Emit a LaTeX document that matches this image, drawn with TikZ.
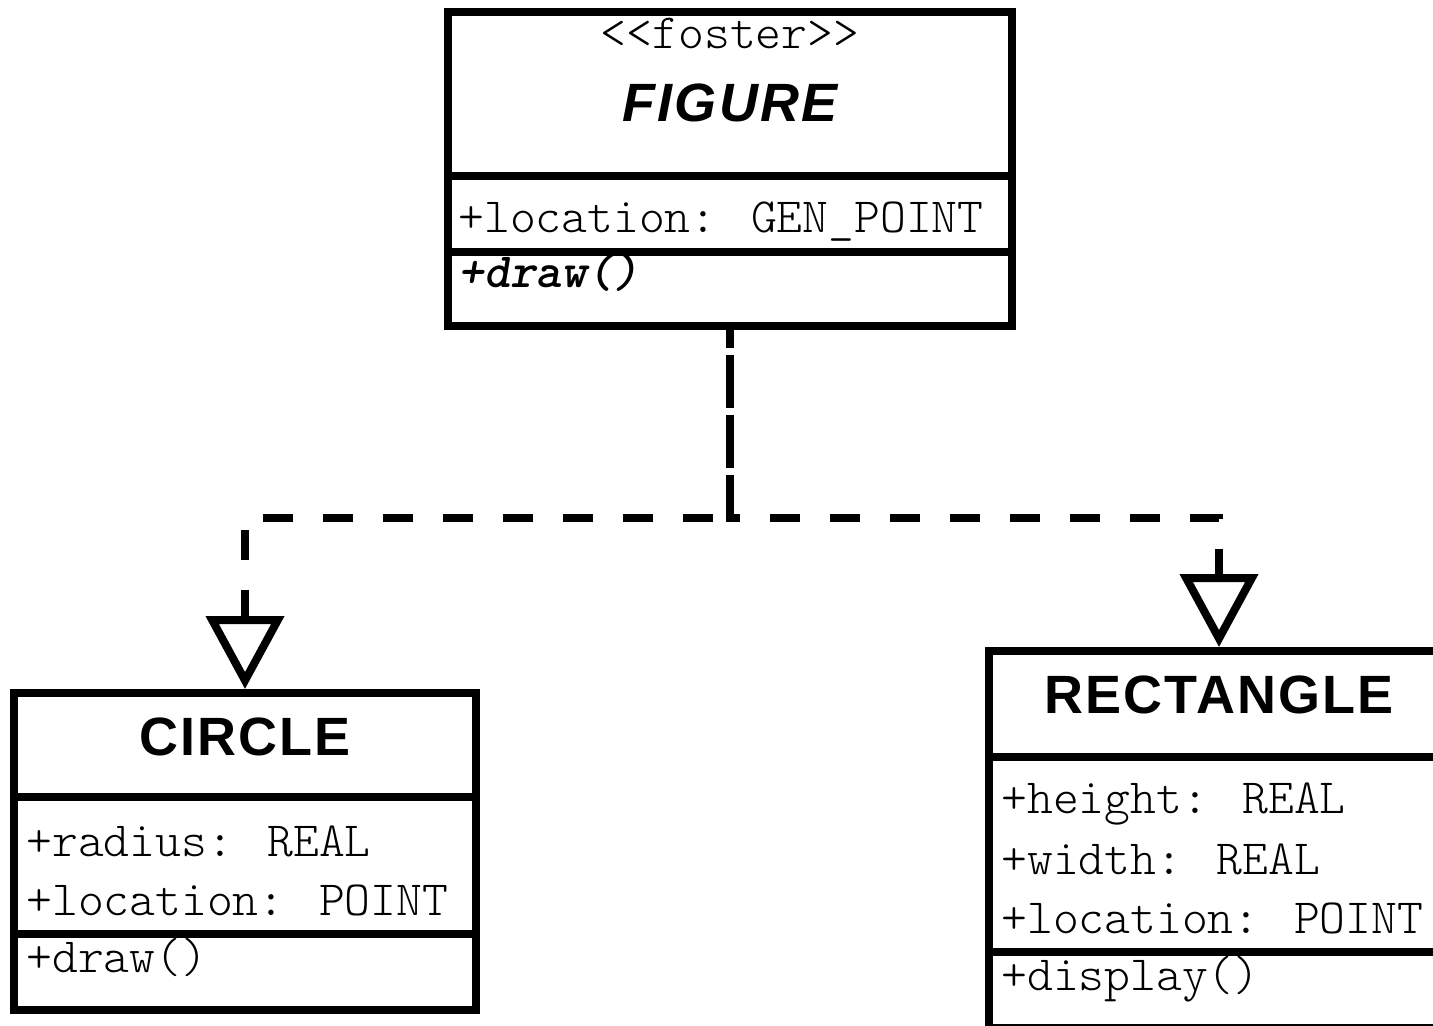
\documentclass[tikz,border=0pt]{standalone}
\usepackage{fontspec}
\usepackage{tikz}
\usetikzlibrary{arrows.meta}
\newfontfamily\umlsans[LetterSpace=4]{Liberation Sans}
\newfontfamily\umlmono{Latin Modern Mono Light}

\begin{document}
\begin{tikzpicture}[x=0.02cm,y=-0.02cm,
   cls/.style={draw,line width=0.16cm,inner sep=0pt},
   part/.style={line width=0.16cm},
   cname/.style={anchor=base,inner sep=0pt,
                 font=\umlsans\bfseries\fontsize{30.7pt}{36pt}\selectfont},
   member/.style={anchor=base west,inner sep=0pt,
                  font=\umlmono\fontsize{28pt}{32pt}\selectfont},
   gen/.style={line width=0.16cm,dash pattern=on 0.6cm off 0.6cm,
               -{Triangle[open,length=1.46cm,width=1.54cm]}}]
  \useasboundingbox (0,0) rectangle (1433,1026);
  \clip (0,0) rectangle (1433,1026);

  % abstract class
  \node[cls,minimum width=11.28cm,minimum height=6.28cm] (fig) at (730,169) {};
  \draw[part] (444,176) -- (1016,176);
  \draw[part] (444,252) -- (1016,252);
  \node[member,anchor=base] (figst) at (730,49) {{<}{<}foster{>}{>}};
  \node[cname,font=\umlsans\bfseries\itshape\fontsize{30.7pt}{36pt}\selectfont] (figname) at (730,122) {FIGURE};
  \node[member] (figloc) at (458,233) {+location: GEN\_POINT};
  \node[member,font=\umlmono\bfseries\itshape\fontsize{28pt}{32pt}\selectfont] (figdraw) at (458,288) {+draw()};

  % subclasses
  \node[cls,minimum width=9.24cm,minimum height=6.34cm] (circ) at (245,851.5) {};
  \draw[part] (10,797) -- (480,797);
  \draw[part] (10,934) -- (480,934);
  \node[cname] (circname) at (245,755) {CIRCLE};
  \node[member] (circrad) at (26,856) {+radius: REAL};
  \node[member] (circloc) at (26,915) {+location: POINT};
  \node[member] (circdraw) at (26,972) {+draw()};

  \node[cls,minimum width=9.2cm,minimum height=7.54cm] (rect) at (1219,839.5) {};
  \draw[part] (985,757) -- (1453,757);
  \draw[part] (985,952) -- (1453,952);
  \node[cname] (rectname) at (1219,713) {RECTANGLE};
  \node[member] (recth) at (1001,813) {+height: REAL};
  \node[member] (rectw) at (1001,874) {+width: REAL};
  \node[member] (rectloc) at (1001,933) {+location: POINT};
  \node[member] (rectdisp) at (1001,990) {+display()};

  % generalisations
  \coordinate (join) at (730,518);
  \draw[gen,dash phase=0.7cm] (fig.south) -- (join) -| (circ.north);
  \draw[gen,dash phase=0.24cm] (fig.south) -- (join) -| (rect.north);
\end{tikzpicture}
\end{document}
